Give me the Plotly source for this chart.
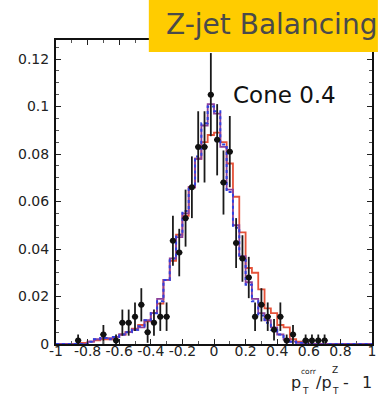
import numpy as np
import plotly.graph_objects as go

# Binning of the balance variable p_T^corr/p_T^Z - 1
bin_edges = np.linspace(-1.0, 1.0, 51)

# Data (points with statistical errors)
data_x = [-0.86, -0.70, -0.62, -0.58, -0.54, -0.50, -0.46, -0.42, -0.38, -0.34,
          -0.30, -0.26, -0.22, -0.18, -0.14, -0.10, -0.06, -0.02, 0.02, 0.06,
          0.10, 0.14, 0.18, 0.22, 0.26, 0.30, 0.34, 0.38, 0.42, 0.46,
          0.50, 0.58, 0.62, 0.66, 0.70]
data_y = [0.0015, 0.004, 0.0015, 0.009, 0.009, 0.0115, 0.0165, 0.005, 0.009, 0.0115,
          0.0115, 0.0435, 0.0385, 0.053, 0.066, 0.083, 0.083, 0.105, 0.086, 0.068,
          0.081, 0.0425, 0.036, 0.028, 0.0115, 0.0165, 0.0115, 0.006, 0.0115, 0.0015,
          0.004, 0.0015, 0.0015, 0.0015, 0.0015]
data_err = [0.0025, 0.004, 0.0025, 0.0055, 0.0055, 0.006, 0.007, 0.0045, 0.0055, 0.006,
            0.006, 0.0105, 0.0100, 0.012, 0.013, 0.015, 0.015, 0.0175, 0.015, 0.0135,
            0.015, 0.0105, 0.0098, 0.0087, 0.006, 0.007, 0.006, 0.0045, 0.006, 0.0025,
            0.004, 0.0025, 0.0025, 0.0025, 0.0025]
data_xerr = [0.02] * len(data_x)

# Simulation histograms, one value per bin (50 bins from -1 to 1)
mc_red = [0, 0, 0, 0, 0.0005, 0.001, 0.0015, 0.002, 0.002, 0.003,
          0.004, 0.005, 0.0065, 0.008, 0.0095, 0.013, 0.017, 0.027, 0.035, 0.046,
          0.054, 0.066, 0.078, 0.085, 0.088, 0.089, 0.085, 0.076, 0.062, 0.047,
          0.032, 0.030, 0.023, 0.015, 0.013, 0.008, 0.007, 0.002, 0.001, 0,
          0, 0, 0, 0, 0, 0, 0, 0, 0, 0]
mc_purple = [0, 0, 0, 0, 0, 0.001, 0.002, 0.0025, 0.0025, 0.003,
             0.004, 0.005, 0.006, 0.007, 0.010, 0.013, 0.019, 0.027, 0.036, 0.045,
             0.055, 0.066, 0.078, 0.092, 0.101, 0.097, 0.083, 0.065, 0.050, 0.037,
             0.026, 0.019, 0.013, 0.010, 0.007, 0.004, 0.002, 0.001, 0.0005, 0,
             0, 0, 0, 0, 0, 0, 0, 0, 0, 0]
mc_blue = [0, 0, 0, 0, 0, 0.001, 0.002, 0.0025, 0.002, 0.003,
           0.004, 0.005, 0.006, 0.0075, 0.010, 0.013, 0.018, 0.027, 0.036, 0.046,
           0.056, 0.066, 0.079, 0.093, 0.100, 0.098, 0.084, 0.064, 0.049, 0.036,
           0.025, 0.018, 0.012, 0.009, 0.006, 0.004, 0.002, 0.001, 0.0005, 0,
           0, 0, 0, 0, 0, 0, 0, 0, 0, 0]

x_tick_vals = [-1, -0.8, -0.6, -0.4, -0.2, 0, 0.2, 0.4, 0.6, 0.8, 1]
x_tick_text = ["-1", "-0.8", "-0.6", "-0.4", "-0.2", "0", "0.2", "0.4", "0.6", "0.8", "1"]
y_tick_vals = [0, 0.02, 0.04, 0.06, 0.08, 0.1, 0.12]
y_tick_text = ["0", "0.02", "0.04", "0.06", "0.08", "0.1", "0.12"]

FONT = "DejaVu Sans"
INK = "#222222"


def step_trace(values, color, dash, width):
    return go.Scatter(
        x=list(bin_edges),
        y=list(values) + [values[-1]],
        mode="lines",
        line=dict(shape="hv", color=color, dash=dash, width=width),
        hoverinfo="skip",
        showlegend=False,
    )


fig = go.Figure()
fig.add_trace(step_trace(mc_red, "#e5533a", "solid", 1.8))
fig.add_trace(step_trace(mc_purple, "#8c3f9a", "solid", 1.8))
fig.add_trace(step_trace(mc_blue, "#3040e0", "dot", 2))
fig.add_trace(go.Scatter(
    x=data_x, y=data_y,
    mode="markers",
    marker=dict(color="#111111", size=6, symbol="circle"),
    error_y=dict(type="data", array=data_err, color="#1a1a1a", thickness=1.8, width=0),
    error_x=dict(type="data", array=data_xerr, color="#1a1a1a", thickness=1.5, width=0),
    showlegend=False,
))

fig.update_xaxes(
    range=[-1, 1], tickvals=x_tick_vals, ticktext=x_tick_text, tickangle=0,
    ticks="inside", ticklen=5, tickcolor=INK, mirror="allticks",
    showline=True, linecolor="#111", linewidth=2,
    showgrid=False, zeroline=False, ticklabelstandoff=-7,
    tickfont=dict(family=FONT, size=14, color=INK),
    minor=dict(ticks="inside", ticklen=3, dtick=0.1, tickcolor="#555"),
)
fig.update_yaxes(
    range=[0, 0.128], tickvals=y_tick_vals, ticktext=y_tick_text,
    ticks="inside", ticklen=5, tickcolor=INK, mirror="allticks",
    showline=True, linecolor="#111", linewidth=2,
    showgrid=False, zeroline=False, ticklabelstandoff=2,
    tickfont=dict(family=FONT, size=14, color=INK),
    minor=dict(ticks="inside", ticklen=3, dtick=0.005, tickcolor="#555"),
)

L, R, T, B = 56, 5, 40, 52
W, H = 381, 396
PW, PH = W - L - R, H - T - B


def px(xp):
    return (xp - L) / PW


def py(yp):
    return (H - B - yp) / PH


def label(text, x, y, size, anchor="left", color=INK):
    return dict(text=text, x=px(x), y=py(y), xanchor=anchor, yanchor="middle",
                xref="paper", yref="paper", showarrow=False,
                font=dict(family=FONT, size=size, color=color))


annotations = [
    label("Z-jet Balancing", 274, 24, 28, "center", "#4a4a4a"),
    label("Cone 0.4", 287, 95, 23, "center", "#111"),
    # axis title p_T^corr / p_T^Z - 1 with stacked indices
    label("p", 292, 382, 16),
    label("T", 303, 391, 9),
    label("corr", 302.5, 371, 7.5),
    label("/p", 317, 382, 16),
    label("T", 333, 391, 9),
    label("Z", 333, 370, 9),
    label("-", 350, 382, 16, "center"),
    label("1", 371, 382, 16, "center"),
]

fig.update_layout(
    width=W, height=H,
    margin=dict(l=L, r=R, t=T, b=B),
    paper_bgcolor="white", plot_bgcolor="white",
    annotations=annotations,
    shapes=[dict(type="rect", xref="paper", yref="paper",
                 x0=px(150), x1=px(382), y0=py(52), y1=py(-1),
                 fillcolor="#ffcc00", line=dict(width=0), layer="above")],
)

fig.write_html("out.html")
